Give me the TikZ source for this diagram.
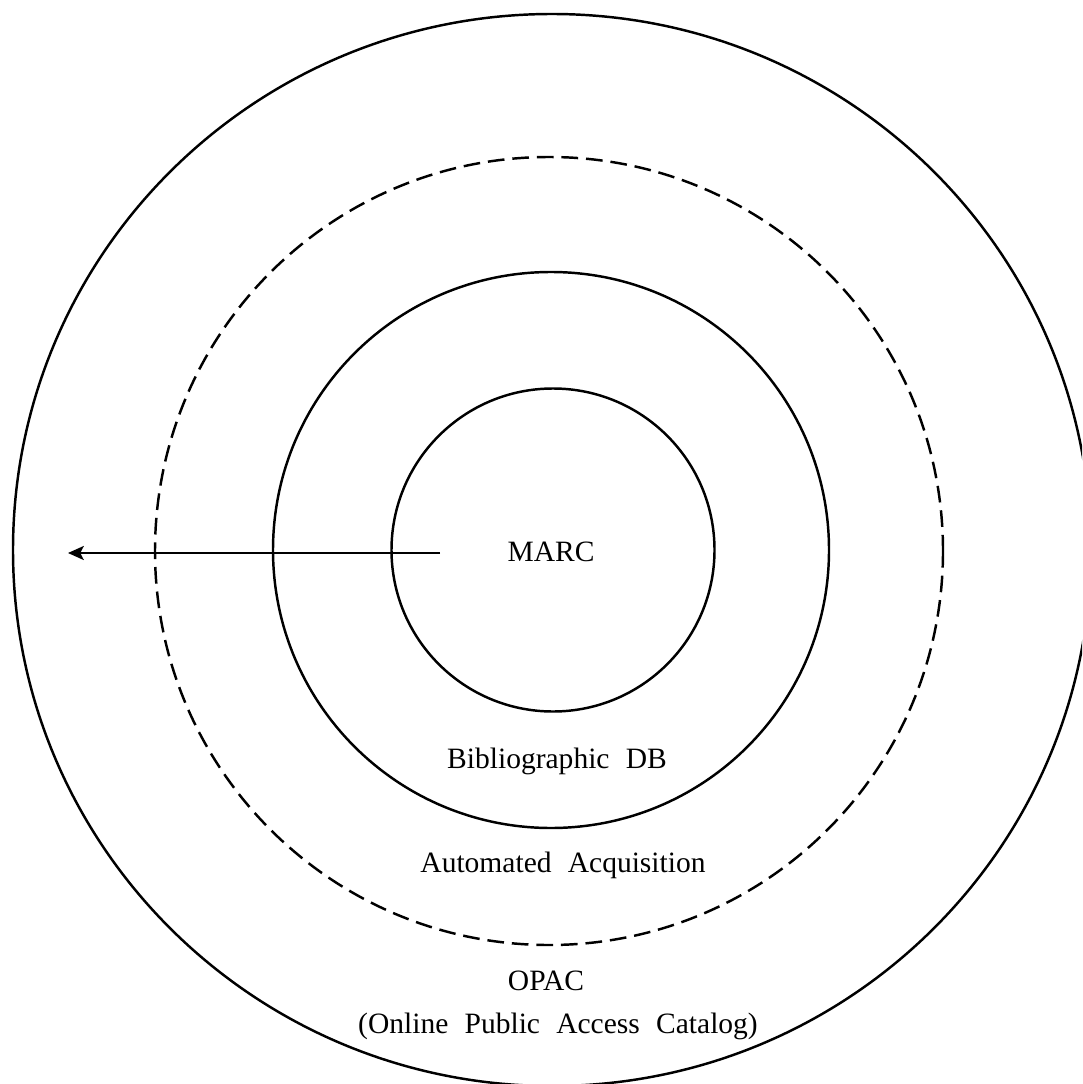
\documentclass[tikz,border=0pt]{standalone}
\usepackage{fontspec}
\setmainfont{Liberation Serif}[WordSpace=2.2]
\usetikzlibrary{arrows.meta}
\begin{document}
\begin{tikzpicture}[x=0.02cm,y=-0.02cm,
  ring/.style={line width=1.4pt},
  dashring/.style={line width=1.4pt, dash pattern=on 9.5pt off 4.5pt},
  lbl/.style={font=\fontsize{16.8}{24}\selectfont, inner sep=0pt, anchor=base},
  flow/.style={line width=1.1pt, -{Stealth[length=9pt,width=8pt,inset=2pt]}}]
  \useasboundingbox (0,0) rectangle (1082,1084);
  \clip (0,0) rectangle (1082,1084);
  % concentric layers
  \draw[ring] (552,550) ellipse [x radius=539, y radius=536];
  \draw[dashring] (549,551) circle (394);
  \draw[ring] (551,550) circle (278);
  \draw[ring] (553,550) circle (161.5);
  % labels
  \node[lbl] (marc) at (551,561) {MARC};
  \node[lbl] (bib) at (557,768) {Bibliographic DB};
  \node[lbl] (acq) at (563,872) {Automated Acquisition};
  \node[lbl] (opac) at (546,990) {OPAC};
  \node[lbl] (opacfull) at (558,1033) {(Online Public Access Catalog)};
  % outward arrow
  \coordinate (from) at (440,553);
  \coordinate (to) at (68,553);
  \draw[flow] (from) -- (to);
\end{tikzpicture}
\end{document}
